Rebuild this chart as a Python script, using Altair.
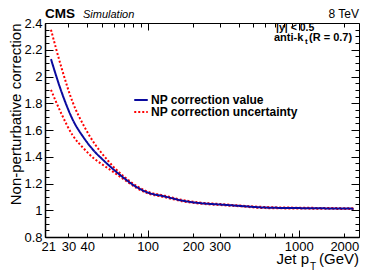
import altair as alt
import pandas as pd

# ---- data ----
pt = [23, 27, 32, 38, 45, 50, 55, 60, 70, 85, 100, 130, 170, 220, 300, 400, 600, 1000, 1500, 2300]
nominal = [2.13, 1.885, 1.678, 1.54, 1.435, 1.384, 1.34, 1.302, 1.24, 1.172, 1.133, 1.103, 1.072, 1.054,
           1.043, 1.033, 1.02, 1.016, 1.014, 1.012]
upper = [2.35, 2.065, 1.808, 1.63, 1.492, 1.424, 1.368, 1.321, 1.251, 1.18, 1.139, 1.108, 1.077, 1.058,
         1.047, 1.036, 1.024, 1.019, 1.017, 1.015]
lower = [1.90, 1.72, 1.56, 1.46, 1.38, 1.344, 1.312, 1.283, 1.23, 1.165, 1.127, 1.098, 1.067, 1.050,
         1.039, 1.030, 1.016, 1.013, 1.011, 1.009]

x_labels = [21, 30, 40, 100, 200, 300, 1000, 2000]
x_ticks = [30, 40, 50, 60, 70, 80, 90, 100, 200, 300, 400, 500, 600, 700, 800, 900, 1000, 2000]
y_labels = [0.8, 1.0, 1.2, 1.4, 1.6, 1.8, 2.0, 2.2, 2.4]
y_ticks = [round(0.8 + 0.05 * i, 2) for i in range(33)]

LABEL_VALUE = "NP correction value"
LABEL_UNC = "NP correction uncertainty"

FONT = "Liberation Sans"
BLUE = "#0a0a9e"
RED = "#ff0000"
W, H = 314, 214

nom_df = pd.DataFrame({"pt": pt, "val": nominal, "curve": "nominal", "series": LABEL_VALUE})
unc_df = pd.concat([
    pd.DataFrame({"pt": pt, "val": upper, "curve": "up", "series": LABEL_UNC}),
    pd.DataFrame({"pt": pt, "val": lower, "curve": "down", "series": LABEL_UNC}),
])

xscale = alt.Scale(type="log", domain=[21, 2500], nice=False)
yscale = alt.Scale(domain=[0.8, 2.4], nice=False, zero=False)
color_scale = alt.Scale(domain=[LABEL_VALUE, LABEL_UNC], range=[BLUE, RED])
dash_scale = alt.Scale(domain=[LABEL_VALUE, LABEL_UNC], range=[[1, 0], [2, 2]])

legend = alt.Legend(title=None, orient="none", legendX=90, legendY=71, symbolType="M-1.35,0H1.35",
                    symbolSize=100, symbolStrokeWidth=2, labelFont=FONT, labelFontSize=12,
                    labelFontWeight="bold", labelColor="black", labelOffset=4, rowPadding=-1,
                    padding=0)

x_main = alt.Axis(orient="bottom", values=x_labels, format="d", ticks=False, domain=True,
                  domainColor="black", domainWidth=1.5, labelFont=FONT, labelFontSize=13,
                  labelColor="black", labelPadding=3, labelFlush=True, labelFlushOffset=4,
                  grid=False, title=None)
y_main = alt.Axis(orient="left", values=y_labels, format="~g", ticks=False, domain=True,
                  domainColor="black", domainWidth=1.5, labelFont=FONT, labelFontSize=13,
                  labelColor="black", labelPadding=3, labelFlush=False, grid=False,
                  title="Non-perturbative correction", titleFont=FONT, titleFontSize=15,
                  titleFontWeight="normal", titleColor="black", titleX=-25, titleY=0,
                  titleAngle=270, titleAlign="right", titleBaseline="alphabetic",
                  titleAnchor="end")

x_major = "datum.value == 100 || datum.value == 1000"
y_major = "abs(datum.value * 5 - round(datum.value * 5)) < 0.001"


def xtick_axis(orient):
    return alt.Axis(orient=orient, offset=-H, values=x_ticks, labels=False, domain=False,
                    grid=False, title=None, tickColor="black", tickWidth=1,
                    tickSize={"condition": {"test": x_major, "value": 7}, "value": 4})


def ytick_axis(orient):
    return alt.Axis(orient=orient, offset=-W, values=y_ticks, labels=False, domain=False,
                    grid=False, title=None, tickColor="black", tickWidth=1,
                    tickSize={"condition": {"test": y_major, "value": 8}, "value": 4})


unc_layer = alt.Chart(unc_df).mark_line(strokeWidth=2, interpolate="monotone").encode(
    x=alt.X("pt:Q", scale=xscale, axis=x_main),
    y=alt.Y("val:Q", scale=yscale, axis=y_main),
    color=alt.Color("series:N", scale=color_scale, legend=legend),
    strokeDash=alt.StrokeDash("series:N", scale=dash_scale, legend=legend),
    detail="curve:N",
)

nom_layer = alt.Chart(nom_df).mark_line(strokeWidth=2, interpolate="monotone").encode(
    x=alt.X("pt:Q", scale=xscale, axis=None),
    y=alt.Y("val:Q", scale=yscale, axis=None),
    color=alt.Color("series:N", scale=color_scale, legend=legend),
    strokeDash=alt.StrokeDash("series:N", scale=dash_scale, legend=legend),
)

ticks_a = alt.Chart(nom_df).mark_line(opacity=0).encode(
    x=alt.X("pt:Q", scale=xscale, axis=xtick_axis("top")),
    y=alt.Y("val:Q", scale=yscale, axis=ytick_axis("right")),
)
ticks_b = alt.Chart(nom_df).mark_line(opacity=0).encode(
    x=alt.X("pt:Q", scale=xscale, axis=xtick_axis("bottom")),
    y=alt.Y("val:Q", scale=yscale, axis=ytick_axis("left")),
)

one = pd.DataFrame({"k": [0]})


def label(text, x, y, size, weight="normal", style="normal", align="left"):
    return alt.Chart(one).mark_text(text=text, font=FONT, fontSize=size, fontWeight=weight,
                                    fontStyle=style, align=align, baseline="alphabetic",
                                    color="black").encode(x=alt.value(x), y=alt.value(y))


texts = [
    label("CMS", 0, -5.2, 13.5, weight="bold"),
    label("Simulation", 38, -5.2, 11, style="italic"),
    label("8 TeV", W, -5.5, 12, align="right"),
    label("|y| <  0.5", 231, 8, 10.5, weight="bold"),
    label("anti-k", 229, 18, 11, weight="bold"),
    label("t", 260, 20.5, 8, weight="bold"),
    label("(R = 0.7)", 264, 18, 11, weight="bold"),
    label("Jet p", 264, 240.5, 15, align="right"),
    label("T", 265, 246.5, 10),
    label("(GeV)", W, 240.5, 15, align="right"),
]

chart = alt.layer(ticks_a, ticks_b, unc_layer, nom_layer, *texts).resolve_axis(
    x="independent", y="independent"
).properties(
    width=W, height=H,
    padding={"left": 37, "top": 15, "right": 7, "bottom": 33},
    autosize=alt.AutoSizeParams(type="none"),
    background="white",
).configure_view(stroke="black", strokeWidth=1)

chart.save("out.html", embed_options={"renderer": "svg", "actions": False})
